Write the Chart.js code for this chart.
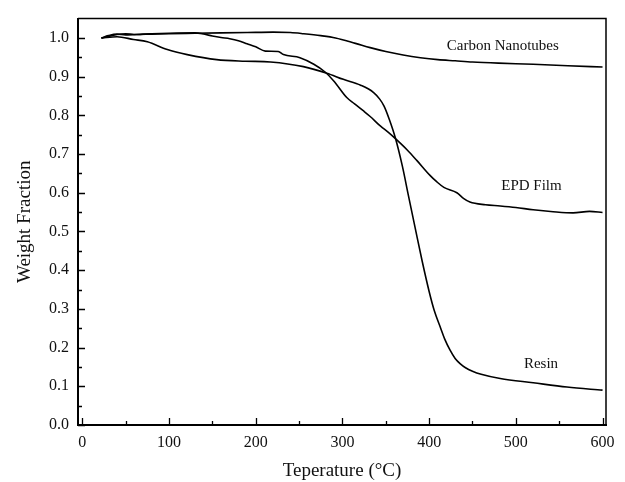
<!DOCTYPE html>
<html>
<head>
<meta charset="utf-8">
<script src="https://cdn.jsdelivr.net/npm/chart.js@4.4.1/dist/chart.umd.min.js"></script>
<style>
    html, body { margin: 0; padding: 0; background: #fff; }
    #wrap { width: 625px; height: 482px; }
</style>
</head>
<body>
<div id="wrap"><canvas id="tga" width="625" height="482"></canvas></div>
<script>
// Tick labels
const xTicks = [0, 100, 200, 300, 400, 500, 600];
const xMinorTicks = [50, 150, 250, 350, 450, 550];
const yTicks = [0.0, 0.1, 0.2, 0.3, 0.4, 0.5, 0.6, 0.7, 0.8, 0.9, 1.0];
const yMinorTicks = [0.05, 0.15, 0.25, 0.35, 0.45, 0.55, 0.65, 0.75, 0.85, 0.95];

// Carbon nanotubes
const cntTemp = [22, 30, 40, 50, 60, 80, 100, 130, 160, 190, 220, 240, 255, 275, 292, 315, 332, 350, 370, 390, 410, 430, 450, 480, 520, 560, 600];
const cntWeight = [1.0, 1.004, 1.009, 1.011, 1.009, 1.010, 1.011, 1.012, 1.013, 1.014, 1.015, 1.014, 1.011, 1.006, 1.0, 0.986, 0.975, 0.965, 0.956, 0.949, 0.944, 0.941, 0.938, 0.935, 0.932, 0.928, 0.925];

// EPD film
const epdTemp = [22, 30, 40, 50, 70, 100, 130, 140, 150, 160, 170, 180, 190, 200, 211, 226, 232, 251, 267, 280, 290, 305, 314, 324, 332, 344, 353, 363, 375, 386, 401, 409, 417, 432, 440, 447, 465, 482, 500, 520, 543, 566, 585, 600];
const epdWeight = [1.0, 1.006, 1.01, 1.008, 1.01, 1.012, 1.013, 1.01, 1.005, 1.001, 0.998, 0.993, 0.985, 0.977, 0.966, 0.965, 0.957, 0.949, 0.932, 0.912, 0.889, 0.846, 0.83, 0.812, 0.797, 0.772, 0.756, 0.736, 0.71, 0.683, 0.645, 0.628, 0.614, 0.6, 0.585, 0.576, 0.569, 0.566, 0.562, 0.556, 0.551, 0.548, 0.552, 0.549];

// Resin
const resinTemp = [22, 40, 59, 75, 98, 121, 155, 188, 217, 255, 282, 301, 321, 336, 343, 348, 354, 361, 369, 376, 384, 392, 400, 406, 413, 418, 424, 430, 436, 442, 450, 460, 482, 520, 559, 600];
const resinWeight = [1.0, 1.003, 0.996, 0.99, 0.97, 0.957, 0.944, 0.94, 0.938, 0.926, 0.909, 0.893, 0.878, 0.859, 0.842, 0.824, 0.79, 0.742, 0.67, 0.594, 0.508, 0.423, 0.345, 0.295, 0.252, 0.222, 0.194, 0.172, 0.158, 0.148, 0.139, 0.131, 0.12, 0.109, 0.098, 0.09];

// Curve labels (data coordinates)
const curveLabels = [
    { text: 'Carbon Nanotubes', x: 485, y: 0.979 },
    { text: 'EPD Film', x: 518, y: 0.617 },
    { text: 'Resin', x: 529, y: 0.158 }
];

const serif = "'Liberation Serif', 'Times New Roman', serif";

function toPoints(xs, ys) {
    return xs.map((x, i) => ({ x: x, y: ys[i] }));
}

function lineSet(label, xs, ys) {
    return {
        label: label,
        data: toPoints(xs, ys),
        borderColor: '#000',
        borderWidth: 1.6,
        pointRadius: 0,
        cubicInterpolationMode: 'monotone',
        fill: false
    };
}

// Inward ticks, frame and curve labels
const framePlugin = {
    id: 'frame',
    afterDatasetsDraw(chart) {
        const { ctx, chartArea: a, scales: { x, y } } = chart;
        ctx.save();
        ctx.strokeStyle = '#000';
        ctx.lineWidth = 1.5;
        ctx.beginPath();
        ctx.moveTo(a.left, a.top);
        ctx.lineTo(a.right, a.top);
        ctx.lineTo(a.right, a.bottom);
        ctx.stroke();

        ctx.lineWidth = 1.3;
        ctx.beginPath();
        xTicks.forEach(v => {
            const px = Math.round(x.getPixelForValue(v)) + 0.5;
            ctx.moveTo(px, a.bottom);
            ctx.lineTo(px, a.bottom - 7);
        });
        xMinorTicks.forEach(v => {
            const px = Math.round(x.getPixelForValue(v)) + 0.5;
            ctx.moveTo(px, a.bottom);
            ctx.lineTo(px, a.bottom - 4);
        });
        yTicks.forEach(v => {
            const py = Math.round(y.getPixelForValue(v)) + 0.5;
            ctx.moveTo(a.left, py);
            ctx.lineTo(a.left + 7, py);
        });
        yMinorTicks.forEach(v => {
            const py = Math.round(y.getPixelForValue(v)) + 0.5;
            ctx.moveTo(a.left, py);
            ctx.lineTo(a.left + 4, py);
        });
        ctx.stroke();

        ctx.fillStyle = '#111';
        ctx.font = "15px " + serif;
        ctx.textAlign = 'center';
        ctx.textBaseline = 'middle';
        curveLabels.forEach(l => {
            ctx.fillText(l.text, x.getPixelForValue(l.x), y.getPixelForValue(l.y));
        });
        ctx.restore();
    }
};

new Chart(document.getElementById('tga'), {
    type: 'line',
    data: {
        datasets: [
            lineSet('Carbon Nanotubes', cntTemp, cntWeight),
            lineSet('EPD Film', epdTemp, epdWeight),
            lineSet('Resin', resinTemp, resinWeight)
        ]
    },
    options: {
        responsive: false,
        animation: false,
        layout: { padding: { top: 16, right: 19, left: 0, bottom: 0 } },
        plugins: {
            legend: { display: false },
            tooltip: { enabled: false }
        },
        scales: {
            x: {
                type: 'linear',
                min: -5,
                max: 604,
                afterBuildTicks: s => { s.ticks = xTicks.map(v => ({ value: v })); },
                afterFit: s => { s.height = 57; },
                grid: { drawOnChartArea: false, drawTicks: false },
                border: { display: true, color: '#000', width: 2 },
                ticks: {
                    color: '#111',
                    padding: 8,
                    maxRotation: 0,
                    font: { family: serif, size: 16 }
                },
                title: {
                    display: true,
                    text: 'Teperature (°C)',
                    color: '#111',
                    padding: { top: 0, bottom: 0 },
                    font: { family: serif, size: 19 }
                }
            },
            y: {
                type: 'linear',
                min: 0,
                max: 1.05,
                afterBuildTicks: s => { s.ticks = yTicks.map(v => ({ value: v })); },
                afterFit: s => { s.width = 78; },
                grid: { drawOnChartArea: false, drawTicks: false },
                border: { display: true, color: '#000', width: 2 },
                ticks: {
                    color: '#111',
                    padding: 9,
                    font: { family: serif, size: 16 },
                    callback: v => v.toFixed(1)
                },
                title: {
                    display: true,
                    text: 'Weight Fraction',
                    color: '#111',
                    padding: { top: 14, bottom: 0 },
                    font: { family: serif, size: 19 }
                }
            }
        }
    },
    plugins: [framePlugin]
});
</script>
</body>
</html>
